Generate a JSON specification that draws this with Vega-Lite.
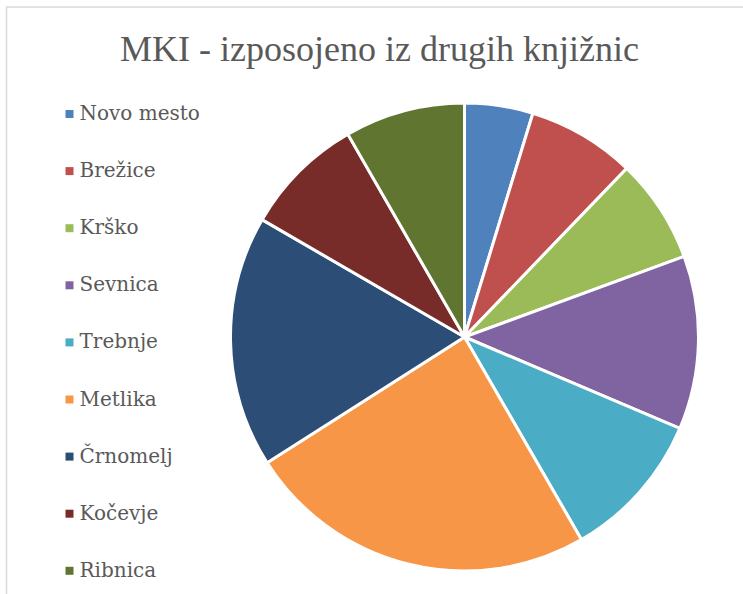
{
  "$schema": "https://vega.github.io/schema/vega-lite/v6.json",
  "autosize": {"type": "none"},
  "width": 916,
  "height": 660,
  "padding": {"left": 6.5, "top": 7, "right": 0, "bottom": 0},
  "background": "white",
  "view": {"stroke": "#d9d9d9", "strokeWidth": 1.5, "fill": "white"},
  "title": {
    "text": "MKI - izposojeno iz drugih knjižnic",
    "font": "Liberation Serif",
    "fontSize": 36,
    "fontWeight": "normal",
    "color": "#595959",
    "anchor": "middle",
    "offset": -62,
    "dx": -85
  },
  "data": {
    "values": [
      {"knjiznica": "Novo mesto", "vrednost": 17.0, "red": 1},
      {"knjiznica": "Brežice", "vrednost": 26.9, "red": 2},
      {"knjiznica": "Krško", "vrednost": 25.95, "red": 3},
      {"knjiznica": "Sevnica", "vrednost": 43.15, "red": 4},
      {"knjiznica": "Trebnje", "vrednost": 37.0, "red": 5},
      {"knjiznica": "Metlika", "vrednost": 87.5, "red": 6},
      {"knjiznica": "Črnomelj", "vrednost": 62.6, "red": 7},
      {"knjiznica": "Kočevje", "vrednost": 30.0, "red": 8},
      {"knjiznica": "Ribnica", "vrednost": 29.9, "red": 9}
    ]
  },
  "mark": {"type": "arc", "outerRadius": 234, "stroke": "white", "strokeWidth": 3},
  "encoding": {
    "theta": {"field": "vrednost", "type": "quantitative", "stack": true},
    "order": {"field": "red", "type": "quantitative"},
    "color": {
      "field": "knjiznica",
      "type": "nominal",
      "scale": {
        "domain": ["Novo mesto", "Brežice", "Krško", "Sevnica", "Trebnje", "Metlika", "Črnomelj", "Kočevje", "Ribnica"],
        "range": ["#4F81BD", "#C0504D", "#9BBB59", "#8064A2", "#4BACC6", "#F79646", "#2C4D75", "#772C2A", "#5F7530"]
      },
      "legend": {
        "title": null,
        "orient": "none",
        "legendX": 53,
        "legendY": 97,
        "padding": 0,
        "symbolType": "square",
        "symbolSize": 64,
        "symbolStrokeWidth": 0,
        "labelFont": "DejaVu Serif",
        "labelFontSize": 20,
        "labelColor": "#595959",
        "labelOffset": 0,
        "rowPadding": 37.1
      }
    }
  },
  "config": {
    "view": {"stroke": "#d9d9d9", "strokeWidth": 1.5}
  }
}
